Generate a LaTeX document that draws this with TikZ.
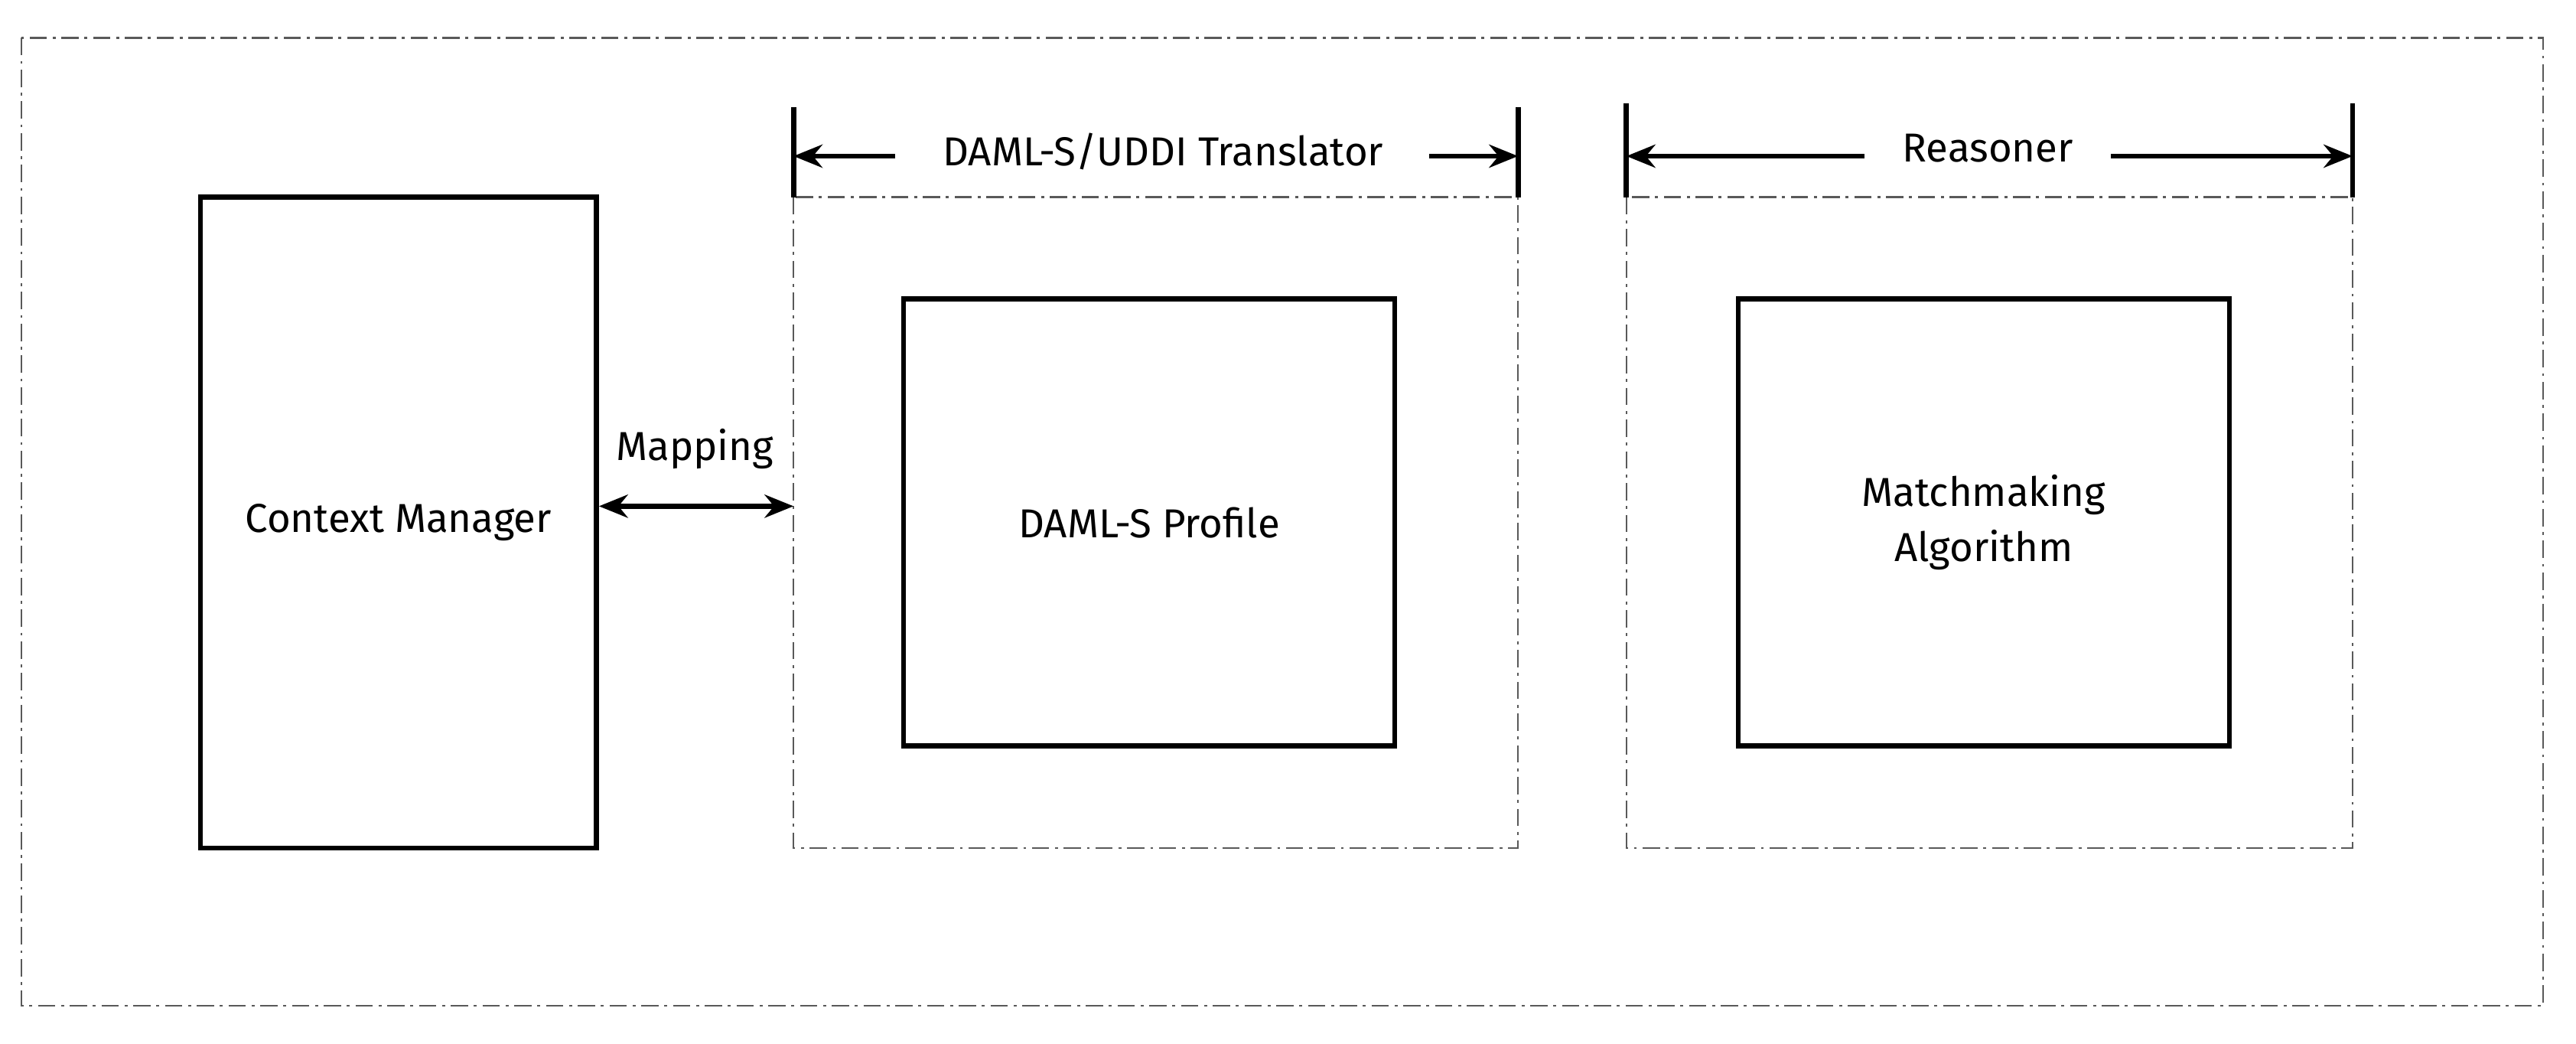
\documentclass[tikz,border=0pt]{standalone}
\usepackage{fontspec}
\setmainfont{Fira Sans}
\usetikzlibrary{arrows.meta}
\begin{document}
\begin{tikzpicture}[x=0.02cm,y=-0.02cm,
  dd/.style={draw,gray!70!black,line width=0.7pt,dash pattern=on 6pt off 2pt on 1pt off 2pt},
  arr/.style={line width=1.8pt,-{Stealth[length=10pt,width=8pt]}},
  lbl/.style={font=\fontsize{14}{16}\selectfont}]
\useasboundingbox (0,0) rectangle (1568,635);
\draw[dd] (13,23) rectangle (1548,612);
\draw[dd] (483,120) rectangle (924,516);
\draw[dd] (990,120) rectangle (1432,516);
\node[draw,line width=1.8pt,minimum width=241*0.02cm,minimum height=396*0.02cm,lbl] (cm) at (242.5,318) {Context Manager};
\node[draw,line width=1.8pt,minimum width=299*0.02cm,minimum height=272*0.02cm,lbl] (dp) at (699.5,318) {DAML-S Profile};
\node[draw,line width=1.8pt,minimum width=299*0.02cm,minimum height=272*0.02cm,lbl,align=center] (mm) at (1207.5,318) {Matchmaking\\[3pt]Algorithm};
\coordinate (t1) at (483,65); \coordinate (t1b) at (483,120);
\coordinate (t2) at (924,65); \coordinate (t2b) at (924,120);
\coordinate (r1) at (990,63); \coordinate (r1b) at (990,120);
\coordinate (r2) at (1432,63); \coordinate (r2b) at (1432,120);
\draw[line width=1.8pt] (t1)--(t1b) (t2)--(t2b) (r1)--(r1b) (r2)--(r2b);
\node[lbl] (tt) at (708,92) {DAML-S/UDDI Translator};
\node[lbl] (rt) at (1210,90) {Reasoner};
\coordinate (ta) at (483,95); \coordinate (tb) at (924,95);
\coordinate (ra) at (990,95); \coordinate (rb) at (1432,95);
\draw[arr] (545,95) -- (ta);
\draw[arr] (870,95) -- (tb);
\draw[arr] (1135,95) -- (ra);
\draw[arr] (1285,95) -- (rb);
\coordinate (me) at (483,308);
\draw[arr,{Stealth[length=10pt,width=8pt]}-{Stealth[length=10pt,width=8pt]}] (cm.east|-me) -- (me);
\node[lbl] (ml) at (423,273) {Mapping};
\end{tikzpicture}
\end{document}
